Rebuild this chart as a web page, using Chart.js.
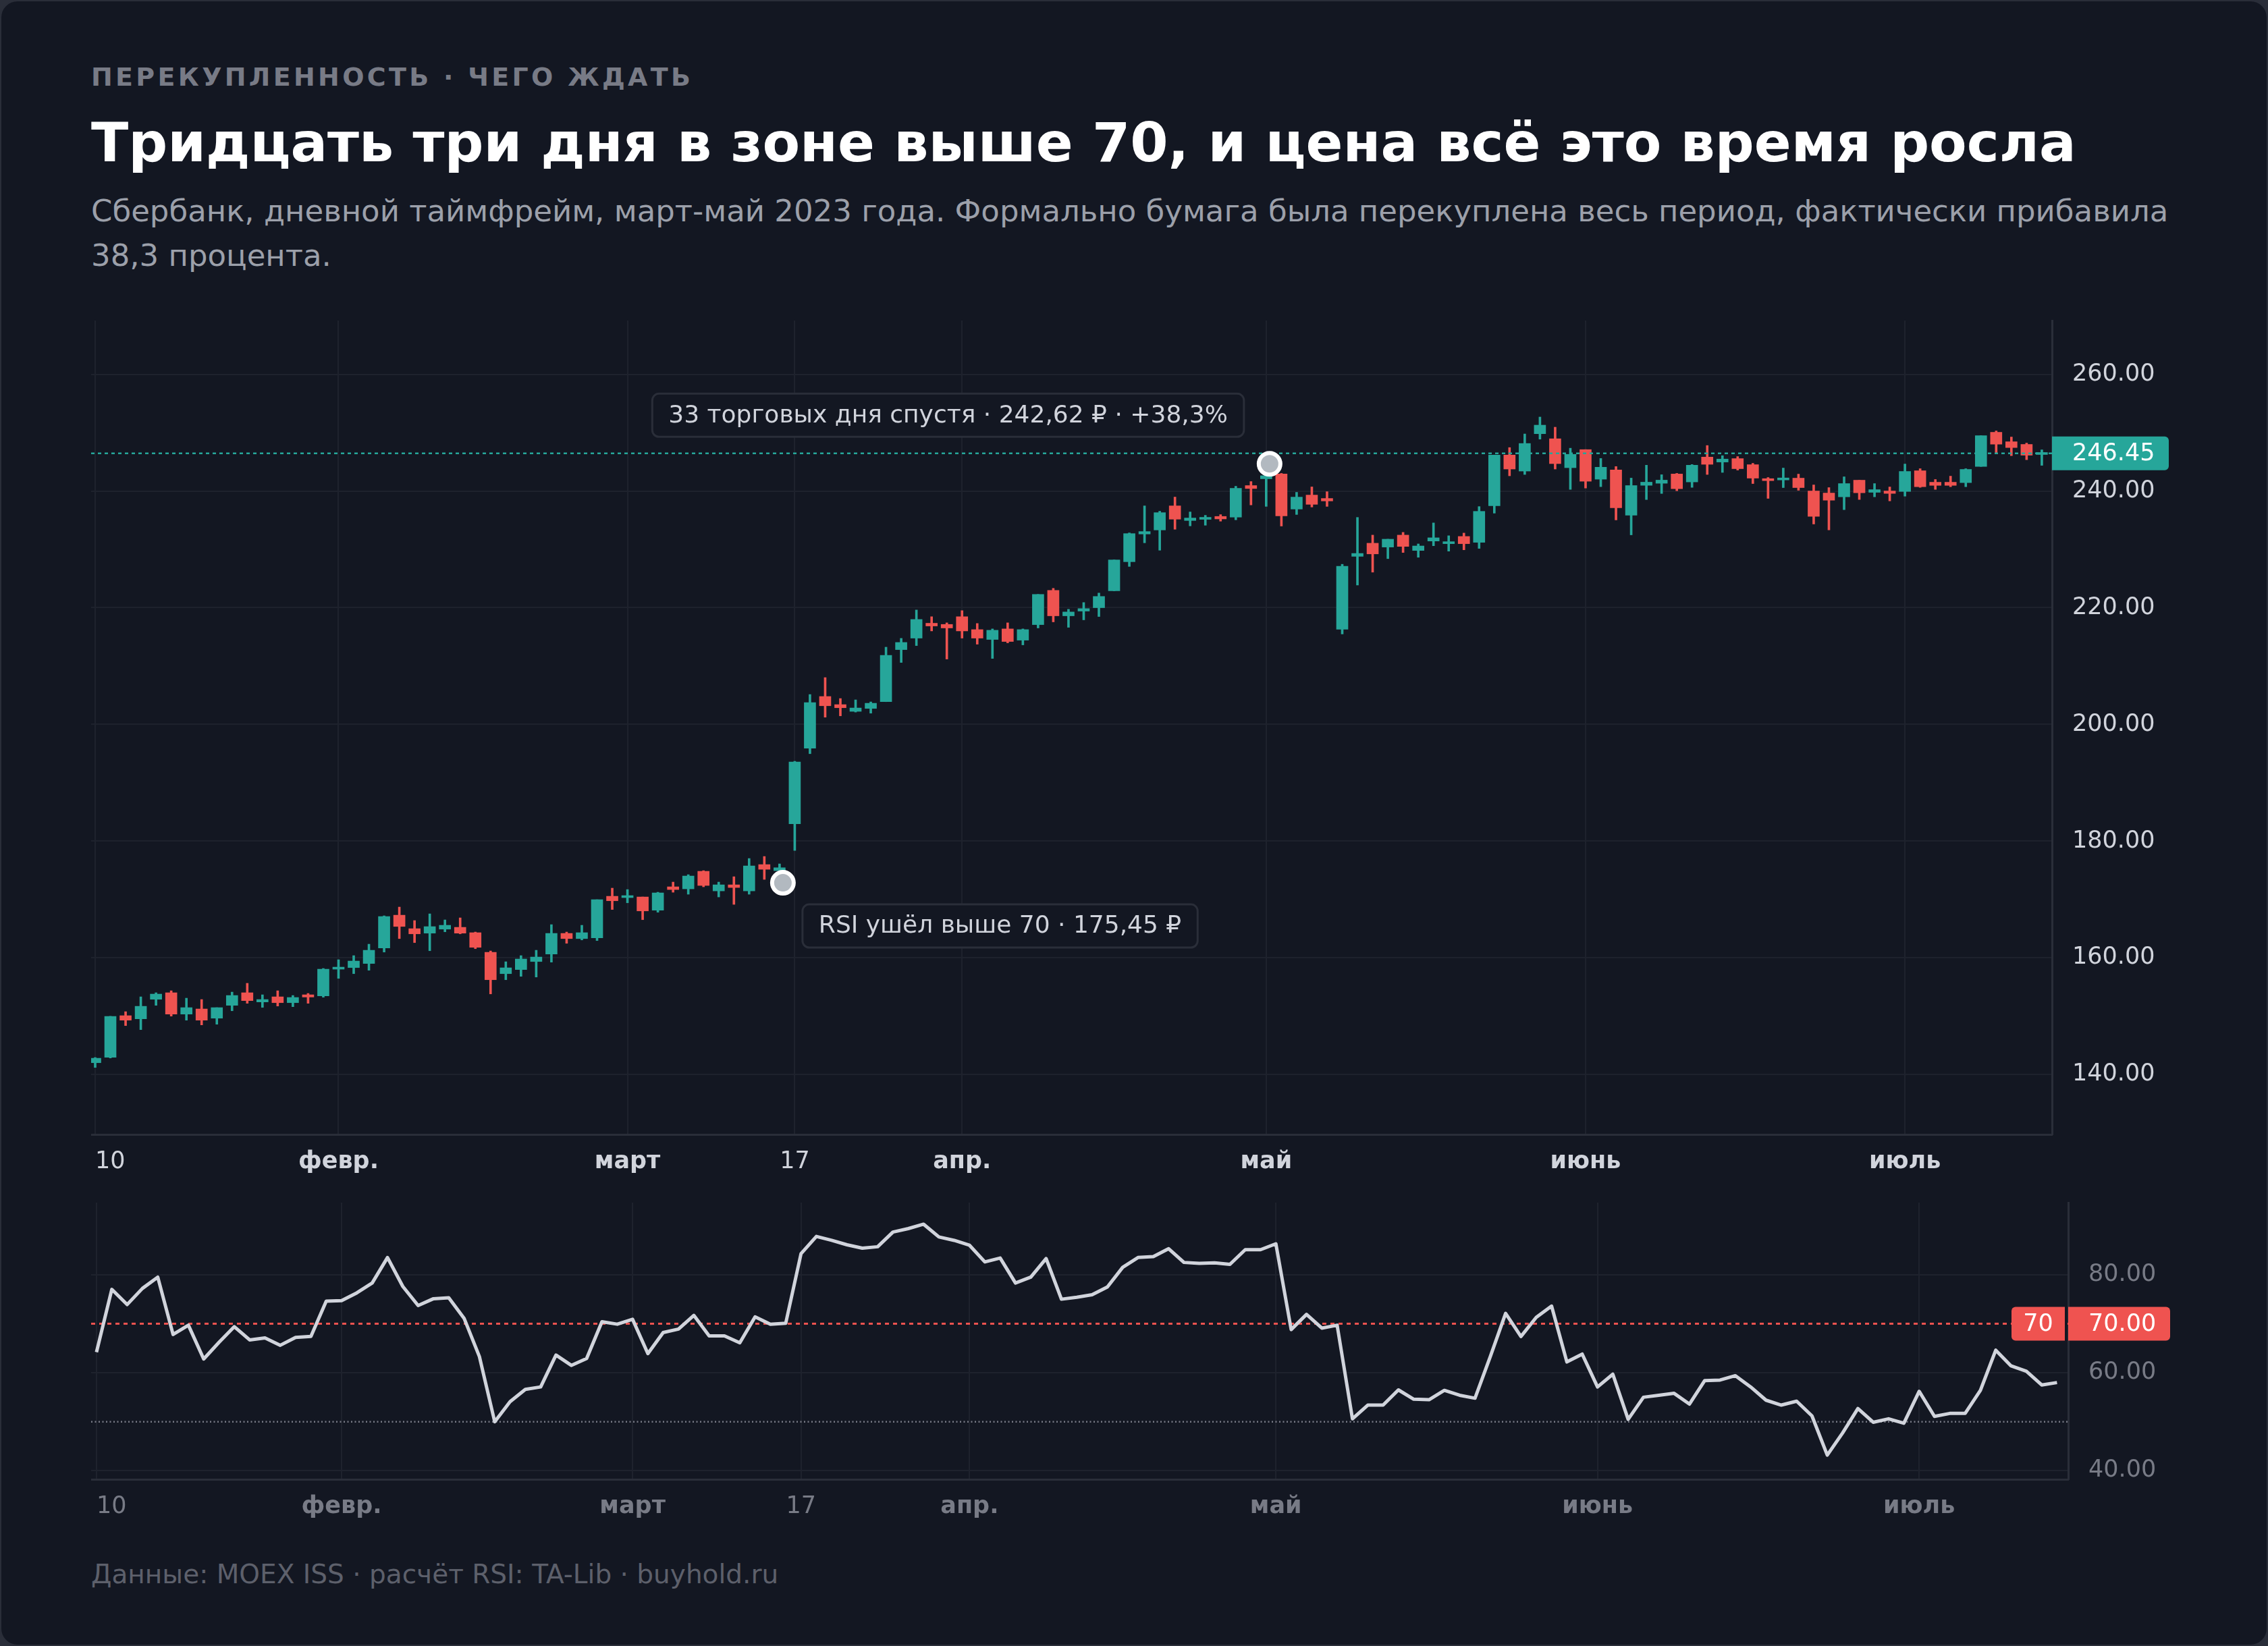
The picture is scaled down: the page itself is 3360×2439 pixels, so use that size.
<!DOCTYPE html>
<html><head><meta charset="utf-8">
<script src="https://cdn.jsdelivr.net/npm/chart.js@4.4.1/dist/chart.umd.min.js"></script>
<style>
html,body{margin:0;padding:0;background:#2a2e39;width:3360px;height:2439px;overflow:hidden;}
#card{position:absolute;left:0;top:0;width:3356px;height:2435px;border:2px solid #2a2e39;border-radius:26px;background:#131722;}
.t{position:absolute;left:135px;font-family:"DejaVu Sans",sans-serif;white-space:nowrap;}
#eyebrow{top:95px;font-size:38px;line-height:38px;font-weight:bold;letter-spacing:4.3px;color:#787b86;}
#title{top:171px;font-size:81px;line-height:81px;font-weight:bold;color:#ffffff;}
#sub{top:280px;font-size:45px;line-height:66px;color:#9ca0aa;}
#foot{top:2313px;font-size:39px;line-height:39px;color:#5d606b;}
canvas{position:absolute;}
#main{left:135px;top:470px;}
#rsi{left:135px;top:1777px;}
</style></head>
<body>
<div id="card"></div>
<div class="t" id="eyebrow">ПЕРЕКУПЛЕННОСТЬ · ЧЕГО ЖДАТЬ</div>
<div class="t" id="title">Тридцать три дня в зоне выше 70, и цена всё это время росла</div>
<div class="t" id="sub">Сбербанк, дневной таймфрейм, март-май 2023 года. Формально бумага была перекуплена весь период, фактически прибавила<br>38,3 процента.</div>
<div class="t" id="foot">Данные: MOEX ISS · расчёт RSI: TA-Lib · buyhold.ru</div>
<canvas id="main" width="3090" height="1290" style="width:3090px;height:1290px"></canvas>
<canvas id="rsi" width="3090" height="500" style="width:3090px;height:500px"></canvas>
<script>
const dates = [
'2023-01-10','2023-01-11','2023-01-12','2023-01-13','2023-01-16','2023-01-17','2023-01-18','2023-01-19','2023-01-20','2023-01-23','2023-01-24','2023-01-25','2023-01-26','2023-01-27','2023-01-30','2023-01-31',
'2023-02-01','2023-02-02','2023-02-03','2023-02-06','2023-02-07','2023-02-08','2023-02-09','2023-02-10','2023-02-13','2023-02-14','2023-02-15','2023-02-16','2023-02-17','2023-02-20','2023-02-21','2023-02-22','2023-02-24','2023-02-27','2023-02-28',
'2023-03-01','2023-03-02','2023-03-03','2023-03-06','2023-03-07','2023-03-09','2023-03-10','2023-03-13','2023-03-14','2023-03-15','2023-03-16','2023-03-17','2023-03-20','2023-03-21','2023-03-22','2023-03-23','2023-03-24','2023-03-27','2023-03-28','2023-03-29','2023-03-30','2023-03-31',
'2023-04-03','2023-04-04','2023-04-05','2023-04-06','2023-04-07','2023-04-10','2023-04-11','2023-04-12','2023-04-13','2023-04-14','2023-04-17','2023-04-18','2023-04-19','2023-04-20','2023-04-21','2023-04-24','2023-04-25','2023-04-26','2023-04-27','2023-04-28',
'2023-05-02','2023-05-03','2023-05-04','2023-05-05','2023-05-08','2023-05-10','2023-05-11','2023-05-12','2023-05-15','2023-05-16','2023-05-17','2023-05-18','2023-05-19','2023-05-22','2023-05-23','2023-05-24','2023-05-25','2023-05-26','2023-05-29','2023-05-30','2023-05-31',
'2023-06-01','2023-06-02','2023-06-05','2023-06-06','2023-06-07','2023-06-08','2023-06-09','2023-06-13','2023-06-14','2023-06-15','2023-06-16','2023-06-19','2023-06-20','2023-06-21','2023-06-22','2023-06-23','2023-06-26','2023-06-27','2023-06-28','2023-06-29','2023-06-30',
'2023-07-03','2023-07-04','2023-07-05','2023-07-06','2023-07-07','2023-07-10','2023-07-11','2023-07-12','2023-07-13','2023-07-14'];

const open = [142.04,142.97,150.10,149.56,152.91,154.03,150.37,151.25,149.67,151.87,154.03,152.45,153.33,152.33,153.68,153.49,
158.07,158.34,159.04,161.70,167.32,165.01,164.24,164.93,165.24,164.32,160.96,157.30,158.00,159.38,160.66,164.20,163.31,163.43,170.56,
170.33,170.44,168.17,172.18,171.83,174.84,171.48,172.52,171.48,175.99,174.95,182.97,195.92,204.79,203.40,202.24,202.74,203.90,212.82,214.79,217.34,217.14,
218.46,216.25,214.56,216.37,214.44,217.10,222.97,218.61,219.42,220.00,222.90,227.88,232.63,233.32,237.45,234.94,235.14,235.64,235.52,240.93,
242.09,242.91,236.90,239.30,238.72,216.32,228.80,231.05,230.39,232.44,229.81,231.43,230.97,232.21,231.20,237.48,246.16,243.41,249.81,248.95,243.99,
247.09,242.02,243.60,235.85,240.97,241.32,242.91,241.55,245.81,244.96,245.55,244.51,242.08,241.89,242.20,240.00,239.65,239.00,241.85,239.77,240.00,
239.92,243.47,241.50,241.50,241.43,244.20,250.06,248.44,247.98,246.25];
const high = [142.93,150.00,150.79,153.33,154.03,154.37,153.10,152.87,151.48,154.14,155.65,153.68,154.37,153.56,153.91,158.19,
159.69,160.39,162.35,167.21,168.71,166.40,167.55,166.51,166.86,164.43,161.19,159.34,160.39,161.31,165.70,164.43,165.59,169.98,171.95,
171.71,170.44,171.25,172.99,174.26,174.95,172.99,173.91,177.03,177.38,176.11,193.68,205.13,208.03,204.44,204.21,203.86,213.24,214.75,219.61,218.46,217.41,
219.50,217.30,216.37,217.41,216.37,222.28,223.32,219.73,220.89,222.51,228.19,232.82,237.45,236.53,238.96,236.41,235.83,235.95,240.81,241.62,
242.80,243.02,239.77,240.70,239.88,227.44,235.47,232.44,231.74,232.91,230.93,234.53,232.33,232.79,237.33,246.16,247.44,249.77,252.67,250.93,247.33,
247.09,245.58,244.19,242.21,244.42,242.79,243.02,244.53,247.79,246.05,245.90,244.74,242.31,243.93,242.89,241.04,240.58,242.43,241.85,241.27,240.69,
244.62,243.82,241.97,242.54,243.82,249.48,250.29,249.25,248.21,247.05];
const low = [141.23,142.85,148.40,147.71,151.87,150.02,149.33,148.52,148.63,150.94,152.22,151.52,151.75,151.64,152.22,153.26,
156.49,157.30,157.88,161.00,163.31,162.62,161.23,164.47,164.12,161.58,153.83,156.26,156.84,156.72,159.27,162.50,163.08,162.97,168.29,
169.44,166.55,167.82,171.25,170.91,172.18,170.44,169.17,170.91,173.45,174.95,178.42,194.99,201.24,201.47,202.12,201.93,203.90,210.62,213.51,216.02,211.20,
214.79,213.75,211.31,213.98,213.63,216.53,217.57,216.64,217.92,218.49,222.90,227.07,231.12,229.85,233.44,234.02,234.13,234.83,235.06,237.61,
237.36,233.99,235.97,237.25,237.36,215.50,223.88,226.09,228.41,229.46,228.64,230.62,229.69,229.92,230.16,236.20,242.60,242.83,248.88,243.76,240.27,
240.50,240.74,235.04,232.48,238.53,239.57,240.04,240.62,242.83,243.18,243.58,241.27,238.73,240.58,240.12,234.34,233.33,236.80,238.54,239.00,238.30,
239.11,240.62,240.27,240.73,240.73,244.20,246.51,246.05,245.36,244.39];
const close = [142.81,149.98,149.33,151.71,153.80,150.37,151.48,149.33,151.48,153.56,152.68,152.87,152.33,153.22,153.29,158.07,
158.42,159.46,161.31,167.09,165.39,164.12,165.36,165.59,164.24,161.81,156.26,158.30,159.81,160.15,164.20,163.31,164.32,169.98,169.79,
170.67,168.05,171.14,171.71,174.03,172.41,172.52,172.06,175.76,175.18,175.45,193.56,203.74,203.20,202.86,202.82,203.63,211.85,214.05,217.99,216.87,216.53,
216.02,214.79,216.14,214.21,216.25,222.28,218.61,219.27,219.85,221.93,228.19,232.70,233.05,236.29,235.17,235.37,235.37,235.21,240.46,240.42,
242.62,235.74,238.95,237.71,238.29,227.09,229.30,229.22,231.74,230.50,230.58,231.98,231.28,230.97,236.51,246.16,243.76,248.14,251.28,244.69,246.28,
241.67,244.07,237.13,240.93,241.51,241.86,240.39,244.42,244.57,245.47,243.82,242.20,241.77,242.20,240.58,235.65,238.42,241.27,239.69,240.23,239.58,
243.35,240.73,240.96,240.96,243.70,249.48,248.02,247.44,246.13,246.45];

const rsi = [64.2,77.0,73.9,77.2,79.5,67.8,69.7,62.8,66.2,69.4,66.7,67.1,65.6,67.2,67.4,74.6,
74.7,76.3,78.3,83.5,77.6,73.7,75.1,75.3,71.1,63.3,50.0,54.1,56.6,57.1,63.6,61.5,62.9,70.4,69.9,
70.9,63.9,68.2,68.9,71.7,67.5,67.5,66.1,71.4,69.9,70.1,84.3,87.8,87.0,86.1,85.4,85.7,88.7,89.4,90.3,87.7,87.0,
86.0,82.6,83.4,78.3,79.5,83.3,75.0,75.4,75.9,77.5,81.5,83.5,83.7,85.3,82.5,82.3,82.4,82.1,85.1,85.1,
86.3,68.8,71.9,69.1,69.7,50.6,53.4,53.4,56.5,54.6,54.5,56.4,55.4,54.8,63.3,72.1,67.4,71.3,73.6,62.2,63.8,
57.1,59.7,50.5,55.0,55.4,55.8,53.6,58.4,58.5,59.4,57.1,54.4,53.4,54.2,51.2,43.2,47.7,52.7,49.9,50.6,49.7,
56.2,51.1,51.7,51.7,56.4,64.6,61.4,60.3,57.5,58.0];

const tickDates = ['2023-01-10','2023-02-01','2023-03-01','2023-03-17','2023-04-03','2023-05-02','2023-06-01','2023-07-03'];
const tickLabels = ['10','февр.','март','17','апр.','май','июнь','июль'];
const tickBold = [false,true,true,false,true,true,true,true];
const priceTicks = [140,160,180,200,220,240,260];
const rsiTicks = [40,60,80];
const rsiUpper = 70;
const rsiMid = 50;
const signalDate = '2023-03-16';
const exitDate = '2023-05-02';

const FONT = '"DejaVu Sans", sans-serif';
const UP = '#26a69a', DOWN = '#ef5350', GRID = '#1e222d', AXIS = '#2a2e39', TXT = '#d1d4dc', MUTED = '#787b86';
const idx = dates.map((d, i) => i);
const tickIdx = tickDates.map(d => dates.indexOf(d));
const candleColor = idx.map(i => close[i] >= open[i] ? UP : DOWN);
const last = close[close.length - 1];
const iSig = dates.indexOf(signalDate), iExit = dates.indexOf(exitDate);
const fmt = v => v.toFixed(2).replace('.', ',');
const days = iExit - iSig + 1;
const pct = ((close[iExit] / close[iSig] - 1) * 100).toFixed(1).replace('.', ',');
const noteSig = `RSI ушёл выше ${rsiUpper} · ${fmt(close[iSig])} ₽`;
const noteExit = `${days} торговых дня спустя · ${fmt(close[iExit])} ₽ · +${pct}%`;

function xScale(min, max, color, axisH) {
  return {
    type: 'linear', min, max, offset: false,
    afterBuildTicks: s => { s.ticks = tickIdx.map(v => ({value: v})).concat([{value: max}]); },
    ticks: {
      autoSkip: false, maxRotation: 0, minRotation: 0, align: 'inner', padding: 20, color,
      font: c => ({family: FONT, size: 35, weight: (c.tick && tickBold[tickIdx.indexOf(c.tick.value)]) ? 'bold' : 'normal'}),
      callback: v => { const k = tickIdx.indexOf(v); return k >= 0 ? tickLabels[k] : ''; }
    },
    grid: {offset: false, drawTicks: false, lineWidth: 2, color: c => (c.tick && tickIdx.includes(c.tick.value)) ? GRID : 'transparent'},
    border: {color: AXIS, width: 3},
    afterFit: s => { s.height = axisH; s.paddingLeft = 0; s.paddingRight = 0; }
  };
}
function yScale(min, max, ticks, color, w) {
  return {
    position: 'right', min, max,
    afterBuildTicks: s => { s.ticks = ticks.map(v => ({value: v})); },
    ticks: {color, font: {family: FONT, size: 35}, padding: 30, callback: v => Number(v).toFixed(2)},
    grid: {color: GRID, lineWidth: 2, drawTicks: false},
    border: {color: AXIS, width: 3},
    afterFit: s => { s.width = w; s.paddingTop = 0; s.paddingBottom = 0; }
  };
}

function marker(ctx, x, y) {
  ctx.beginPath(); ctx.arc(x, y, 16, 0, Math.PI * 2);
  ctx.fillStyle = '#b2b9c0'; ctx.fill();
  ctx.lineWidth = 6; ctx.strokeStyle = '#ffffff'; ctx.stroke();
}
function note(ctx, text, x, y, anchorRight) {
  ctx.font = `36px ${FONT}`;
  const w = ctx.measureText(text).width + 48, h = 64;
  const left = anchorRight ? x - w : x;
  ctx.beginPath(); ctx.roundRect(left, y, w, h, 10);
  ctx.fillStyle = '#131722'; ctx.fill();
  ctx.lineWidth = 3; ctx.strokeStyle = AXIS; ctx.stroke();
  ctx.fillStyle = TXT; ctx.textAlign = 'left'; ctx.textBaseline = 'middle';
  ctx.fillText(text, left + 24, y + h / 2 + 1);
}

const mainOverlay = {
  id: 'mainOverlay',
  afterDraw(chart) {
    const {ctx, scales: {x, y}, chartArea: a} = chart;
    ctx.save();
    const py = y.getPixelForValue(last);
    ctx.fillStyle = UP;
    ctx.beginPath(); ctx.roundRect(a.right, py - 25, 173, 50, [0, 6, 6, 0]); ctx.fill();
    ctx.fillStyle = '#ffffff'; ctx.font = `35px ${FONT}`; ctx.textAlign = 'left'; ctx.textBaseline = 'middle';
    ctx.fillText(last.toFixed(2), a.right + 30, py + 1);
    const sx = x.getPixelForValue(iSig) + 5, sy = y.getPixelForValue(low[iSig]) + 18;
    const ex = x.getPixelForValue(iExit) + 5, ey = y.getPixelForValue(high[iExit]) - 16;
    marker(ctx, sx, sy);
    marker(ctx, ex, ey);
    note(ctx, noteSig, sx + 29, sy + 32, false);
    note(ctx, noteExit, ex - 38, ey - 104, true);
    ctx.restore();
  }
};
const rsiOverlay = {
  id: 'rsiOverlay',
  afterDraw(chart) {
    const {ctx, scales: {y}, chartArea: a} = chart;
    ctx.save();
    const py = y.getPixelForValue(rsiUpper);
    ctx.fillStyle = DOWN;
    ctx.beginPath(); ctx.roundRect(a.right - 84, py - 25, 79, 50, [6, 0, 0, 6]); ctx.fill();
    ctx.beginPath(); ctx.roundRect(a.right, py - 25, 151, 50, [0, 6, 6, 0]); ctx.fill();
    ctx.fillStyle = '#ffffff'; ctx.font = `35px ${FONT}`; ctx.textBaseline = 'middle';
    ctx.textAlign = 'center'; ctx.fillText(String(rsiUpper), a.right - 44.5, py + 1);
    ctx.textAlign = 'left'; ctx.fillText(rsiUpper.toFixed(2), a.right + 30, py + 1);
    ctx.restore();
  }
};

const mainMin = -0.266, mainMax = 128.67;
new Chart(document.getElementById('main'), {
  type: 'bar',
  data: {datasets: [
    {type: 'line', label: 'last', data: [{x: mainMin, y: last}, {x: mainMax, y: last}], borderColor: UP, borderWidth: 2.5, borderDash: [5, 5], pointRadius: 0, order: 0},
    {type: 'bar', label: 'body', data: idx.map(i => ({x: i, y: [open[i], close[i]]})), backgroundColor: candleColor, barThickness: 17, minBarLength: 3, grouped: false, borderWidth: 0, order: 1},
    {type: 'bar', label: 'wick', data: idx.map(i => ({x: i, y: [low[i], high[i]]})), backgroundColor: candleColor, barThickness: 3, grouped: false, borderWidth: 0, order: 2}
  ]},
  options: {
    responsive: false, animation: false, events: [],
    layout: {padding: {top: 5, left: 0, right: 0, bottom: 0}},
    plugins: {legend: {display: false}, tooltip: {enabled: false}},
    scales: {x: xScale(mainMin, mainMax, TXT, 79), y: yScale(129.75, 269.2, priceTicks, TXT, 185)}
  },
  plugins: [mainOverlay]
});

const rMin = -0.35, rMax = 128.73;
new Chart(document.getElementById('rsi'), {
  type: 'line',
  data: {datasets: [
    {label: 'RSI', data: idx.map(i => ({x: i, y: rsi[i]})), borderColor: '#d1d4dc', borderWidth: 5, pointRadius: 0, tension: 0, borderJoinStyle: 'round', order: 0},
    {label: 'upper', data: [{x: rMin, y: rsiUpper}, {x: rMax, y: rsiUpper}], borderColor: DOWN, borderWidth: 3, borderDash: [6, 6], pointRadius: 0, order: 1},
    {label: 'mid', data: [{x: rMin, y: rsiMid}, {x: rMax, y: rsiMid}], borderColor: MUTED, borderWidth: 2.5, borderDash: [2, 3.5], pointRadius: 0, order: 2}
  ]},
  options: {
    responsive: false, animation: false, events: [],
    layout: {padding: {top: 5, left: 0, right: 0, bottom: 0}},
    plugins: {legend: {display: false}, tooltip: {enabled: false}},
    scales: {x: xScale(rMin, rMax, MUTED, 85), y: yScale(38.26, 94.7, rsiTicks, MUTED, 161)}
  },
  plugins: [rsiOverlay]
});
</script>
</body></html>
